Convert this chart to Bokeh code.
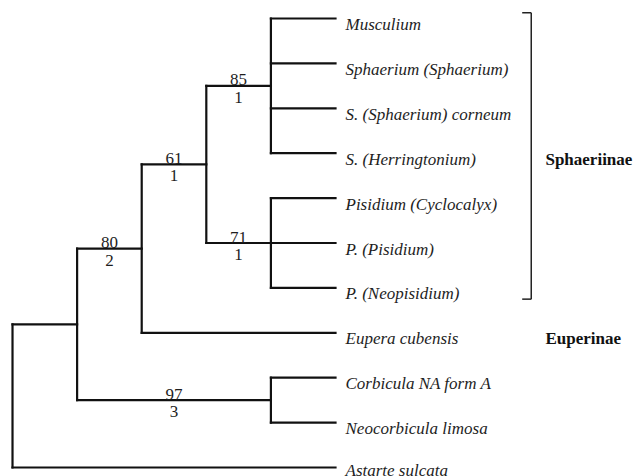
from bokeh.plotting import figure
from bokeh.models import Range1d, ColumnDataSource
from bokeh.core.properties import value
from bokeh.embed import file_html
from bokeh.resources import INLINE

# ---- data -------------------------------------------------------------
taxa = [
    "Musculium",
    "Sphaerium (Sphaerium)",
    "S. (Sphaerium) corneum",
    "S. (Herringtonium)",
    "Pisidium (Cyclocalyx)",
    "P. (Pisidium)",
    "P. (Neopisidium)",
    "Eupera cubensis",
    "Corbicula NA form A",
    "Neocorbicula limosa",
    "Astarte sulcata",
]
leaf_depth = 5

clade_names = ["n85", "n71", "n61", "n80", "n97", "nA", "root"]
clade_children = [
    [0, 1, 2, 3],
    [4, 5, 6],
    ["n85", "n71"],
    ["n61", 7],
    [8, 9],
    ["n80", "n97"],
    ["nA", 10],
]
clade_depths = [4, 4, 3, 2, 4, 1, 0]
bootstrap = {"n85": 85, "n71": 71, "n61": 61, "n80": 80, "n97": 97}
decay = {"n85": 1, "n71": 1, "n61": 1, "n80": 2, "n97": 3}

groups = ["Sphaeriinae", "Euperinae"]
group_leaf = [3, 7]
bracket_leaves = [0, 6]  # Sphaeriinae spans these leaves

# ---- tree layout --------------------------------------------------------
depth = dict(zip(clade_names, clade_depths))
children = dict(zip(clade_names, clade_children))
ypos = {}


def node_y(n):
    if isinstance(n, int):
        return float(n)
    if n not in ypos:
        ys = [node_y(c) for c in children[n]]
        ypos[n] = (min(ys) + max(ys)) / 2.0
    return ypos[n]


def node_d(n):
    return leaf_depth if isinstance(n, int) else depth[n]


x0, y0, x1, y1 = [], [], [], []
parent_of = {}
for n in clade_names:
    ys = [node_y(c) for c in children[n]]
    d = depth[n]
    x0.append(d); x1.append(d); y0.append(min(ys)); y1.append(max(ys))
    for c in children[n]:
        parent_of[c] = n
        x0.append(d); x1.append(node_d(c)); y0.append(node_y(c)); y1.append(node_y(c))

lab_x, lab_y, lab_top, lab_bot = [], [], [], []
for n in clade_names:
    if n in bootstrap:
        p_d = depth[parent_of[n]]
        lab_x.append((p_d + depth[n]) / 2.0)
        lab_y.append(node_y(n))
        lab_top.append(str(bootstrap[n]))
        lab_bot.append(str(decay[n]))

# ---- figure -------------------------------------------------------------
p = figure(width=635, height=476, output_backend="svg", toolbar_location=None,
           x_range=Range1d(-0.186, 9.644), y_range=Range1d(10.20, -0.401),
           min_border=0, outline_line_color=None)
p.axis.visible = False
p.grid.visible = False
p.background_fill_color = "white"
p.border_fill_color = "white"

p.segment(x0=x0, y0=y0, x1=x1, y1=y1, line_color="#111111", line_width=2.2,
          line_cap="square")

FONT = value("Liberation Serif")
# last label sits at the picture's bottom edge: lift it slightly so it stays whole
leaf_src = ColumnDataSource(dict(
    x=[leaf_depth] * len(taxa), y=list(range(len(taxa))), text=taxa,
    yoff=[6] * (len(taxa) - 1) + [3]))
p.text(x="x", y="y", text="text", source=leaf_src, y_offset="yoff",
       text_font=FONT, text_font_style="italic", text_font_size="17px",
       text_color="#1e1e1e", text_baseline="alphabetic", x_offset=10)

p.text(x=lab_x, y=lab_y, text=lab_top, text_font=FONT, text_font_size="17px",
       text_color="#1e1e1e", text_align="center", text_baseline="alphabetic",
       y_offset=-6)
p.text(x=lab_x, y=lab_y, text=lab_bot, text_font=FONT, text_font_size="17px",
       text_color="#1e1e1e", text_align="center", text_baseline="top",
       y_offset=6)

# bracket for Sphaeriinae
bx, btick = 8.03, 7.89
b_top = bracket_leaves[0] - 0.13
b_bot = bracket_leaves[1] + 0.25
p.segment(x0=[bx, btick, btick], y0=[b_top, b_top, b_bot],
          x1=[bx, bx, bx], y1=[b_bot, b_top, b_bot],
          line_color="#222222", line_width=1.5)

p.text(x=[8.25] * len(groups), y=group_leaf, text=groups, text_font=FONT,
       text_font_style="bold", text_font_size="17px", text_color="#111111",
       text_baseline="alphabetic", y_offset=6)

open("out.html", "w").write(file_html(p, INLINE))
